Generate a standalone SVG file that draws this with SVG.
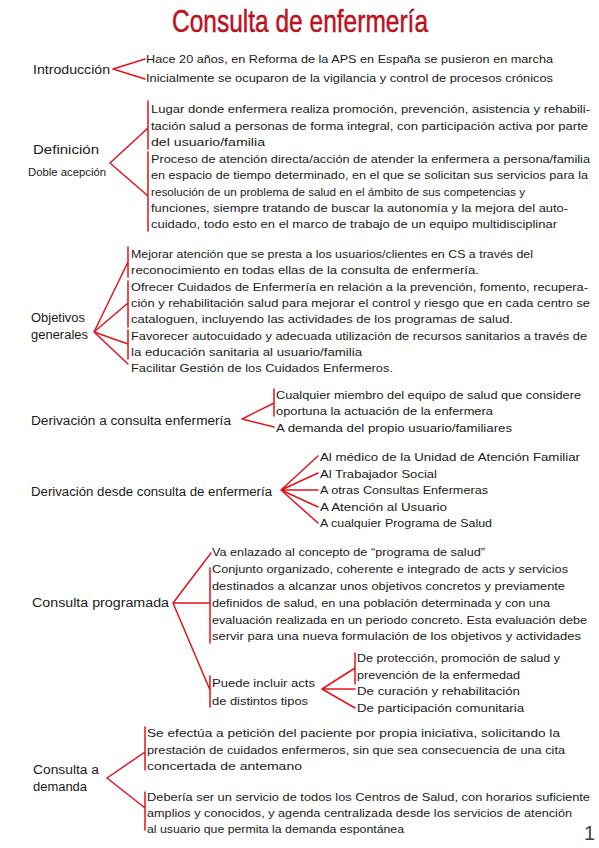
<svg xmlns="http://www.w3.org/2000/svg" width="599" height="848" viewBox="0 0 599 848">
<style>
text{font-family:"Liberation Sans","DejaVu Sans",sans-serif;fill:#1a1a1a;font-size:11.5px}
.title{font-size:32px;fill:#d0101e;stroke:#7a0008;stroke-width:0.4}
.lbl{font-size:12.5px}
.sm{font-size:11.5px}
.c path{fill:none;stroke:#e3131c;stroke-width:1.5;stroke-linecap:round}
.num{font-size:20px;fill:#444}
</style>
<rect width="599" height="848" fill="#ffffff"/>
<g id="title"><text class="title" x="172" y="32" textLength="256" lengthAdjust="spacingAndGlyphs">Consulta de enfermería</text></g>

<g class="c" id="connectors">
<path d="M113,69 L145,59 M113,69 L145,79"/>
<path d="M110,163 L148,128 M110,163 L148,196 M148,101 V149 M148,152 V231"/>
<path d="M94,332 L128,262 M94,332 L128,303 M94,332 L128,344 M94,332 L128,364 M128,247 V277 M128,281 V327 M128,330 V359"/>
<path d="M242,419 L274,403 M242,419 L274,427 M274,389 V416"/>
<path d="M281,490 L318,456 M281,490 L318,473 M281,490 L318,490 M281,490 L318,507 M281,490 L318,523"/>
<path d="M173,603 L211,553 M173,603 L210,603 M173,603 L210,690 M210,568 V643 M210,676 V707"/>
<path d="M322,689 L355,668 M322,689 L355,689 M322,689 L355,708 M355,653 V684"/>
<path d="M107,778 L145,752 M107,778 L145,808 M145,727 V770 M145,792 V830"/>
</g>

<g id="introduccion">
<text class="lbl" x="33" y="74" textLength="77" lengthAdjust="spacingAndGlyphs">Introducción</text>
<text x="146" y="63" textLength="407" lengthAdjust="spacingAndGlyphs">Hace 20 años, en Reforma de la APS en España se pusieron en marcha</text>
<text x="146" y="82" textLength="407" lengthAdjust="spacingAndGlyphs">Inicialmente se ocuparon de la vigilancia y control de procesos crónicos</text>
</g>

<g id="definicion">
<text class="lbl" x="33" y="154" textLength="66" lengthAdjust="spacingAndGlyphs">Definición</text>
<text class="sm" x="28" y="176" textLength="78" lengthAdjust="spacingAndGlyphs">Doble acepción</text>
<text x="151" y="113" textLength="439" lengthAdjust="spacingAndGlyphs">Lugar donde enfermera realiza promoción, prevención, asistencia y rehabili-</text>
<text x="151" y="130" textLength="437" lengthAdjust="spacingAndGlyphs">tación salud a personas de forma integral, con participación activa por parte</text>
<text x="151" y="146" textLength="114" lengthAdjust="spacingAndGlyphs">del usuario/familia</text>
<text x="151" y="163" textLength="439" lengthAdjust="spacingAndGlyphs">Proceso de atención directa/acción de atender la enfermera a persona/familia</text>
<text x="151" y="179" textLength="437" lengthAdjust="spacingAndGlyphs">en espacio de tiempo determinado, en el que se solicitan sus servicios para la</text>
<text x="151" y="196" textLength="374" lengthAdjust="spacingAndGlyphs">resolución de un problema de salud en el ámbito de sus competencias y</text>
<text x="151" y="212" textLength="417" lengthAdjust="spacingAndGlyphs">funciones, siempre tratando de buscar la autonomía y la mejora del auto-</text>
<text x="151" y="228" textLength="406" lengthAdjust="spacingAndGlyphs">cuidado, todo esto en el marco de trabajo de un equipo multidisciplinar</text>
</g>

<g id="objetivos">
<text class="lbl" x="31" y="322" textLength="54" lengthAdjust="spacingAndGlyphs">Objetivos</text>
<text class="lbl" x="31" y="339" textLength="57" lengthAdjust="spacingAndGlyphs">generales</text>
<text x="131" y="258" textLength="402" lengthAdjust="spacingAndGlyphs">Mejorar atención que se presta a los usuarios/clientes en CS a través del</text>
<text x="131" y="274" textLength="348" lengthAdjust="spacingAndGlyphs">reconocimiento en todas ellas de la consulta de enfermería.</text>
<text x="131" y="291" textLength="457" lengthAdjust="spacingAndGlyphs">Ofrecer Cuidados de Enfermería en relación a la prevención, fomento, recupera-</text>
<text x="131" y="307" textLength="459" lengthAdjust="spacingAndGlyphs">ción y rehabilitación salud para mejorar el control y riesgo que en cada centro se</text>
<text x="131" y="323" textLength="382" lengthAdjust="spacingAndGlyphs">cataloguen, incluyendo las actividades de los programas de salud.</text>
<text x="131" y="340" textLength="456" lengthAdjust="spacingAndGlyphs">Favorecer autocuidado y adecuada utilización de recursos sanitarios a través de</text>
<text x="131" y="356" textLength="231" lengthAdjust="spacingAndGlyphs">la educación sanitaria al usuario/familia</text>
<text x="131" y="372" textLength="262" lengthAdjust="spacingAndGlyphs">Facilitar Gestión de los Cuidados Enfermeros.</text>
</g>

<g id="derivacion-a">
<text class="lbl" x="31" y="425" textLength="200" lengthAdjust="spacingAndGlyphs">Derivación a consulta enfermería</text>
<text x="276" y="399" textLength="305" lengthAdjust="spacingAndGlyphs">Cualquier miembro del equipo de salud que considere</text>
<text x="276" y="415" textLength="217" lengthAdjust="spacingAndGlyphs">oportuna la actuación de la enfermera</text>
<text x="276" y="432" textLength="236" lengthAdjust="spacingAndGlyphs">A demanda del propio usuario/familiares</text>
</g>

<g id="derivacion-desde">
<text class="lbl" x="31" y="496" textLength="241" lengthAdjust="spacingAndGlyphs">Derivación desde consulta de enfermería</text>
<text x="320" y="461" textLength="260" lengthAdjust="spacingAndGlyphs">Al médico de la Unidad de Atención Familiar</text>
<text x="320" y="478" textLength="117" lengthAdjust="spacingAndGlyphs">Al Trabajador Social</text>
<text x="320" y="494" textLength="168" lengthAdjust="spacingAndGlyphs">A otras Consultas Enfermeras</text>
<text x="320" y="511" textLength="127" lengthAdjust="spacingAndGlyphs">A Atención al Usuario</text>
<text x="320" y="527" textLength="172" lengthAdjust="spacingAndGlyphs">A cualquier Programa de Salud</text>
</g>

<g id="consulta-programada">
<text class="lbl" x="32" y="607" textLength="137" lengthAdjust="spacingAndGlyphs">Consulta programada</text>
<text x="212" y="556" textLength="273" lengthAdjust="spacingAndGlyphs">Va enlazado al concepto de “programa de salud”</text>
<text x="212" y="573" textLength="356" lengthAdjust="spacingAndGlyphs">Conjunto organizado, coherente e integrado de acts y servicios</text>
<text x="212" y="590" textLength="353" lengthAdjust="spacingAndGlyphs">destinados a alcanzar unos objetivos concretos y previamente</text>
<text x="212" y="607" textLength="338" lengthAdjust="spacingAndGlyphs">definidos de salud, en una población determinada y con una</text>
<text x="212" y="624" textLength="375" lengthAdjust="spacingAndGlyphs">evaluación realizada en un periodo concreto. Esta evaluación debe</text>
<text x="212" y="640" textLength="369" lengthAdjust="spacingAndGlyphs">servir para una nueva formulación de los objetivos y actividades</text>
</g>

<g id="tipos">
<text x="212" y="687" textLength="103" lengthAdjust="spacingAndGlyphs">Puede incluir acts</text>
<text x="212" y="705" textLength="96" lengthAdjust="spacingAndGlyphs">de distintos tipos</text>
<text x="357" y="662" textLength="203" lengthAdjust="spacingAndGlyphs">De protección, promoción de salud y</text>
<text x="357" y="679" textLength="163" lengthAdjust="spacingAndGlyphs">prevención de la enfermedad</text>
<text x="357" y="695" textLength="163" lengthAdjust="spacingAndGlyphs">De curación y rehabilitación</text>
<text x="357" y="712" textLength="167" lengthAdjust="spacingAndGlyphs">De participación comunitaria</text>
</g>

<g id="consulta-demanda">
<text class="lbl" x="33" y="774" textLength="66" lengthAdjust="spacingAndGlyphs">Consulta a</text>
<text class="lbl" x="33" y="791" textLength="54" lengthAdjust="spacingAndGlyphs">demanda</text>
<text x="147" y="737" textLength="413" lengthAdjust="spacingAndGlyphs">Se efectúa a petición del paciente por propia iniciativa, solicitando la</text>
<text x="147" y="754" textLength="418" lengthAdjust="spacingAndGlyphs">prestación de cuidados enfermeros, sin que sea consecuencia de una cita</text>
<text x="147" y="770" textLength="155" lengthAdjust="spacingAndGlyphs">concertada de antemano</text>
<text x="147" y="801" textLength="443" lengthAdjust="spacingAndGlyphs">Debería ser un servicio de todos los Centros de Salud, con horarios suficiente</text>
<text x="147" y="817" textLength="425" lengthAdjust="spacingAndGlyphs">amplios y conocidos, y agenda centralizada desde los servicios de atención</text>
<text x="147" y="833" textLength="257" lengthAdjust="spacingAndGlyphs">al usuario que permita la demanda espontánea</text>
</g>

<g id="page-number"><text class="num" x="584" y="840">1</text></g>
</svg>
